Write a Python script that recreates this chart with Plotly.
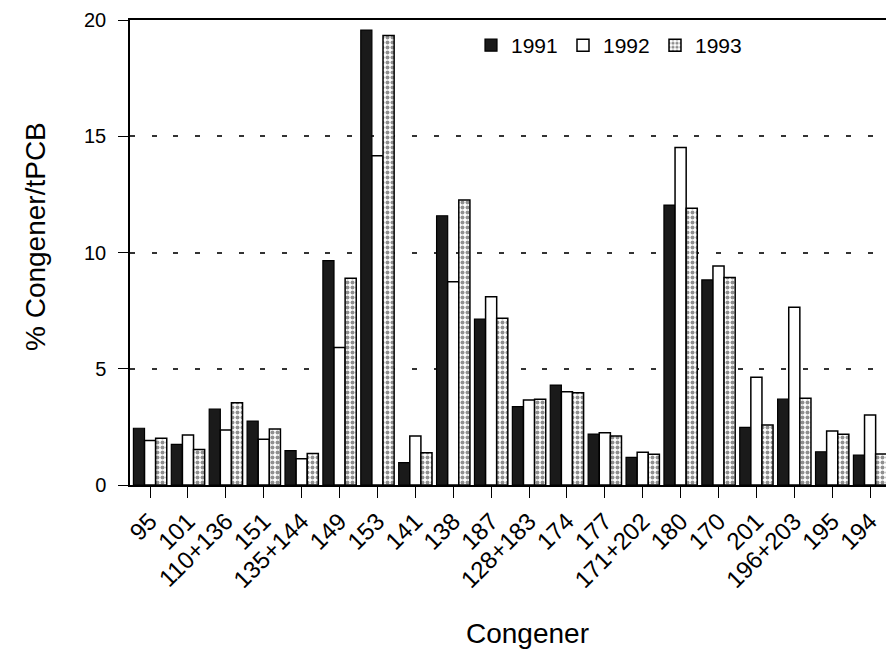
import plotly.graph_objects as go

congeners = ["95", "101", "110+136", "151", "135+144", "149", "153", "141", "138", "187",
             "128+183", "174", "177", "171+202", "180", "170", "201", "196+203", "195", "194"]
years = ["1991", "1992", "1993"]
v1991 = [2.44, 1.75, 3.26, 2.75, 1.48, 9.65, 19.57, 0.96, 11.58, 7.14,
         3.37, 4.30, 2.19, 1.19, 12.04, 8.82, 2.48, 3.69, 1.43, 1.29]
v1992 = [1.91, 2.15, 2.37, 1.97, 1.13, 5.91, 14.16, 2.11, 8.74, 8.10,
         3.66, 4.01, 2.25, 1.41, 14.52, 9.42, 4.63, 7.64, 2.32, 3.01]
v1993 = [2.01, 1.53, 3.54, 2.41, 1.36, 8.89, 19.33, 1.39, 12.26, 7.17,
         3.69, 3.97, 2.11, 1.32, 11.90, 8.93, 2.58, 3.73, 2.18, 1.33]
y_ticks = [0, 5, 10, 15, 20]

FONT = "Liberation Sans, Arial, Helvetica, sans-serif"

W, H = 886, 653
l, r, t, b = 130, 0, 20, 168
pw, ph = W - l - r, H - t - b


def px2paper(px, py):
    return (px - l) / pw, (H - b - py) / ph


fig = go.Figure()
fig.add_trace(go.Bar(x=congeners, y=v1991, name=years[0],
                     marker=dict(color="#1a1a1a", line=dict(color="black", width=1.2))))
fig.add_trace(go.Bar(x=congeners, y=v1992, name=years[1],
                     marker=dict(color="white", line=dict(color="black", width=1.5))))
fig.add_trace(go.Bar(x=congeners, y=v1993, name=years[2],
                     marker=dict(color="white", line=dict(color="black", width=1.5),
                                 pattern=dict(shape=".", size=5, solidity=0.5,
                                              fgcolor="#222", bgcolor="white"))))

lx, ly = px2paper(471, 25)
cx, cy = px2paper(527, 633)
yx, yy = px2paper(35, 237)

fig.update_layout(
    width=W, height=H,
    margin=dict(l=l, r=r, t=t, b=b, autoexpand=False),
    paper_bgcolor="white", plot_bgcolor="white",
    barmode="group", bargap=0.12, bargroupgap=0,
    font=dict(family=FONT, size=20, color="black"),
    legend=dict(orientation="h", x=lx, y=ly, xanchor="left", yanchor="top",
                font=dict(size=21, color="black"), bgcolor="rgba(0,0,0,0)",
                entrywidth=47, entrywidthmode="pixels", itemwidth=30,
                traceorder="normal"),
    annotations=[
        dict(text="Congener", x=cx, y=cy, xref="paper", yref="paper",
             xanchor="center", yanchor="middle",
             showarrow=False, font=dict(size=28, color="black")),
        dict(text="% Congener/tPCB", x=yx, y=yy, xref="paper", yref="paper",
             xanchor="center", yanchor="middle", showarrow=False,
             textangle=-90, font=dict(size=28, color="black")),
    ],
)

fig.update_xaxes(
    type="category", range=[-0.53, 19.42], automargin=False,
    showline=True, linecolor="black", linewidth=1.5, mirror=True,
    ticks="outside", ticklen=11, tickcolor="black", tickwidth=1.2,
    tickangle=-45, tickfont=dict(size=24, color="black"),
    showgrid=False,
)
fig.update_yaxes(
    range=[0, 20], tickvals=y_ticks, automargin=False,
    showline=True, linecolor="black", linewidth=1.5,
    ticks="outside", ticklen=10, tickcolor="black", tickwidth=1.2,
    tickfont=dict(size=20, color="black"), ticklabelstandoff=8,
    showgrid=True, gridcolor="#333", gridwidth=1.5, griddash="5px,16.7px",
    zeroline=False,
)

fig.write_html("out.html", config={"displayModeBar": False},
               post_script="document.body.style.margin='0';document.body.style.overflow='hidden';")
